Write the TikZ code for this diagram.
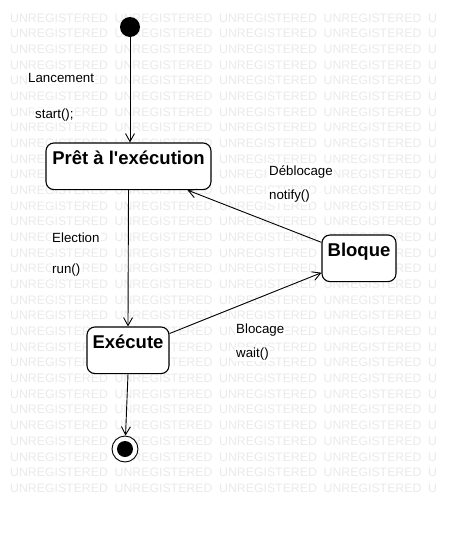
\documentclass[tikz,border=0pt]{standalone}
\usepackage{fontspec}
\setmainfont{Liberation Sans}
\usetikzlibrary{arrows.meta,calc}
\definecolor{wmgray}{RGB}{234,234,234}
\begin{document}
\begin{tikzpicture}[x=1pt,y=-1pt,
  state/.style={draw, line width=1.1pt, rounded corners=8pt, fill=white,
    font=\bfseries\fontsize{18.5}{20}\selectfont, inner sep=0pt,
    text height=21.6pt, text depth=25pt, anchor=base},
  lbl/.style={font=\fontsize{13.3}{15}\selectfont, anchor=west, fill=white, inner sep=1pt},
  wm/.style={font=\fontsize{12.3}{14}\selectfont, text=wmgray, anchor=west, inner sep=0pt},
  trans/.style={draw, line width=0.9pt, -{Straight Barb[length=8pt,width=9pt]}}]
\useasboundingbox (0,0) rectangle (475,547);
\fill[white] (0,0) rectangle (475,547);
% watermark
\begin{scope}
\clip (0,0) rectangle (436,547);
\foreach \i in {0,...,30}{
  \foreach \j in {0,...,4}{
    \node[wm] (wm-\i-\j) at ({10+104.5*\j},{18+15.67*\i}) {UNREGISTERED};
  }
}
\end{scope}
% states
\node[circle, fill=black, minimum size=20pt, inner sep=0pt] (init) at (130,27) {};
\node[state, minimum width=165pt] (pret) at (128.5,164.6) {Prêt à l\textquotesingle exécution};
\node[state, minimum width=82pt] (exec) at (128,348.6) {Exécute};
\node[state, minimum width=74pt] (bloque) at (359,256.6) {Bloque};
\node[circle, draw, fill=white, line width=0.9pt, minimum size=26pt, inner sep=0pt] (final) at (125,449) {};
\node[circle, fill=black, minimum size=16pt, inner sep=0pt] (finaldot) at (final) {};
% transitions
\draw[trans] (init) -- (init |- pret.north);
\draw[trans] (pret.south) -- (exec.north);
\draw[trans] (exec.south) -- (final);
\draw[trans] (bloque.157) -- (pret.-22);
\draw[trans] (exec.22) -- (bloque.201);
% labels
\node[lbl] (l1) at (27,78) {Lancement};
\node[lbl] (l2) at (34,115) {start();};
\node[lbl] (l3) at (51,238) {Election};
\node[lbl] (l4) at (51,270) {run()};
\node[lbl] (l5) at (268,172) {Déblocage};
\node[lbl] (l6) at (268,196) {notify()};
\node[lbl] (l7) at (235,330) {Blocage};
\node[lbl] (l8) at (235,354) {wait()};
\end{tikzpicture}
\end{document}
